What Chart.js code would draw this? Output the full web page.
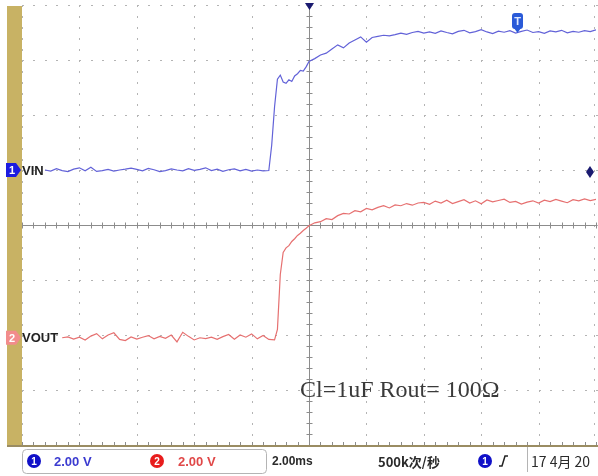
<!DOCTYPE html>
<html>
<head>
<meta charset="utf-8">
<script src="https://cdn.jsdelivr.net/npm/chart.js@4.4.1/dist/chart.umd.min.js"></script>
<style>
    html, body { margin: 0; padding: 0; background: #fff; }
    #wrap { width: 598px; height: 476px; position: relative; }
</style>
</head>
<body>
<div id="wrap"><canvas id="scope" width="598" height="476"></canvas></div>
<script>
// time in ms (2 ms/div, 10 div across), volts per channel (2 V/div)
const vinTime = [-9.2,-9.0,-8.8,-8.6,-8.4,-8.2,-8.0,-7.8,-7.6,-7.4,-7.2,-7.0,-6.8,-6.6,-6.4,-6.2,-6.0,-5.8,-5.6,-5.4,
    -5.2,-5.0,-4.8,-4.6,-4.4,-4.2,-4.0,-3.8,-3.6,-3.4,-3.2,-3.0,-2.8,-2.6,-2.4,-2.2,-2.0,-1.8,-1.6,-1.4,
    -1.3,-1.2,-1.1,-1.0,-0.9,-0.8,-0.7,-0.6,-0.5,-0.4,-0.3,-0.2,-0.1,0.0,
    0.2,0.4,0.6,0.8,1.0,1.2,1.4,1.6,1.8,2.0,2.2,2.4,2.6,2.8,3.0,3.2,3.4,3.6,3.8,4.0,
    4.2,4.4,4.6,4.8,5.0,5.2,5.4,5.6,5.8,6.0,6.2,6.4,6.6,6.8,7.0,7.2,7.4,7.6,7.8,8.0,
    8.2,8.4,8.6,8.8,9.0,9.2,9.4,9.6,9.8,10.0];
const vinVolts = [0.00,-0.04,0.05,-0.02,-0.06,0.03,0.08,-0.03,0.10,-0.05,-0.02,0.02,-0.04,0.00,0.03,0.07,0.02,-0.03,0.06,0.01,
    -0.06,-0.02,0.04,0.00,-0.03,0.05,-0.01,0.02,0.08,-0.02,0.03,-0.05,0.01,0.04,-0.03,0.02,-0.04,0.00,-0.03,-0.02,
    0.9,2.3,3.3,3.45,3.2,3.15,3.28,3.22,3.42,3.5,3.62,3.6,3.75,3.95,
    4.05,4.18,4.25,4.4,4.55,4.44,4.62,4.73,4.84,4.65,4.82,4.86,4.9,4.88,4.92,4.98,4.93,5.0,5.04,4.98,
    5.02,4.97,5.06,5.00,4.95,5.04,5.08,4.99,5.03,5.10,5.02,4.96,5.05,5.01,5.07,4.98,5.04,5.09,5.00,5.03,
    4.97,5.06,5.02,5.08,4.99,5.04,5.01,5.07,5.03,5.10];

const voutTime = [-8.6,-8.4,-8.2,-8.0,-7.8,-7.6,-7.4,-7.2,-7.0,-6.8,-6.6,-6.4,-6.2,-6.0,-5.8,-5.6,-5.4,-5.2,-5.0,
    -4.8,-4.6,-4.4,-4.2,-4.0,-3.8,-3.6,-3.4,-3.2,-3.0,-2.8,-2.6,-2.4,-2.2,-2.0,-1.8,-1.6,-1.4,-1.2,
    -1.1,-1.0,-0.9,-0.8,-0.7,-0.6,-0.5,-0.4,-0.3,-0.2,-0.1,0.0,
    0.2,0.4,0.6,0.8,1.0,1.2,1.4,1.6,1.8,2.0,2.2,2.4,2.6,2.8,3.0,3.2,3.4,3.6,3.8,
    4.0,4.2,4.4,4.6,4.8,5.0,5.2,5.4,5.6,5.8,6.0,6.2,6.4,6.6,6.8,7.0,7.2,7.4,7.6,7.8,
    8.0,8.2,8.4,8.6,8.8,9.0,9.2,9.4,9.6,9.8,10.0];
const voutVolts = [0.00,0.03,-0.05,0.02,-0.08,0.06,0.15,-0.04,0.10,0.18,-0.06,-0.10,0.03,-0.05,0.02,0.08,-0.04,0.05,-0.02,
    0.10,-0.15,0.20,0.05,-0.08,0.00,-0.03,0.02,-0.06,0.04,0.12,-0.05,0.10,0.02,0.14,-0.04,0.08,-0.06,-0.08,
    0.3,2.3,3.1,3.27,3.35,3.5,3.6,3.72,3.8,3.9,3.98,4.07,
    4.18,4.22,4.33,4.3,4.44,4.52,4.5,4.62,4.58,4.7,4.65,4.74,4.8,4.72,4.83,4.8,4.88,4.82,4.9,
    4.92,4.85,4.97,4.9,5.0,4.88,4.95,5.02,4.9,4.98,4.87,5.01,4.94,4.99,5.04,4.92,4.96,4.86,4.93,4.98,
    4.9,5.0,4.95,5.03,4.97,4.91,5.02,4.98,5.05,4.99,5.03];

const vinOffset = 1.0;     // ground marker position, divisions
const voutOffset = -2.05;
const voltsPerDiv = 2;

const channelNames = ["VIN", "VOUT"];
const statusTexts = ["2.00 V", "2.00 V", "2.00ms", "500k次/秒", "17 4月 20"];
const noteText = "Cl=1uF Rout= 100Ω";

const toPoints = (times, volts, offset) =>
    times.map((t, i) => ({ x: t, y: offset + volts[i] / voltsPerDiv }));

const narrowBold = (size) => `bold ${size}px "Liberation Sans Narrow", "Liberation Sans", Arial, sans-serif`;

function tag(ctx, x, y, color, label) {
    ctx.save();
    ctx.fillStyle = color;
    ctx.beginPath();
    ctx.moveTo(x, y - 7);
    ctx.lineTo(x + 10, y - 7);
    ctx.lineTo(x + 15, y);
    ctx.lineTo(x + 10, y + 7);
    ctx.lineTo(x, y + 7);
    ctx.closePath();
    ctx.fill();
    ctx.fillStyle = "#fff";
    ctx.font = narrowBold(11);
    ctx.textAlign = "center";
    ctx.textBaseline = "middle";
    ctx.fillText(label, x + 6, y + 1);
    ctx.restore();
}

function badge(ctx, x, y, color, label) {
    ctx.save();
    ctx.fillStyle = color;
    ctx.beginPath();
    ctx.ellipse(x, y, 7, 7, 0, 0, Math.PI * 2);
    ctx.fill();
    ctx.fillStyle = "#fff";
    ctx.font = narrowBold(10);
    ctx.textAlign = "center";
    ctx.textBaseline = "middle";
    ctx.fillText(label, x, y + 1);
    ctx.restore();
}

const scopeBackdrop = {
    id: "scopeBackdrop",
    beforeDatasetsDraw(chart) {
        const { ctx, chartArea } = chart;
        const xs = chart.scales.x, ys = chart.scales.y;
        const { left, right, top, bottom } = chartArea;
        ctx.save();

        // gold side bar
        ctx.fillStyle = "#c8b264";
        ctx.fillRect(7, top + 1, 15, bottom - top);

        // dotted graticule
        ctx.fillStyle = "#b4b4b4";
        for (let d = -10; d <= 10; d += 2) {
            const px = Math.round(xs.getPixelForValue(d));
            for (let v = -4; v <= 4.001; v += 0.2) {
                ctx.fillRect(px - (d === 10 ? 2 : 0), Math.round(ys.getPixelForValue(v)), 1, 2);
            }
        }
        for (let v = -4; v <= 4; v += 1) {
            const py = Math.round(ys.getPixelForValue(v));
            for (let d = -10; d <= 10.001; d += 0.4) {
                ctx.fillRect(Math.round(xs.getPixelForValue(d)), py, 2, 1);
            }
        }

        // centre cross with minor ticks
        const cx = Math.round(xs.getPixelForValue(0)) + 0.5;
        const cy = Math.round(ys.getPixelForValue(0)) + 0.5;
        ctx.strokeStyle = "#8c8c8c";
        ctx.lineWidth = 1;
        ctx.beginPath();
        ctx.moveTo(left, cy); ctx.lineTo(right, cy);
        ctx.moveTo(cx, top); ctx.lineTo(cx, bottom);
        for (let d = -10; d <= 10.001; d += 0.4) {
            const px = Math.round(xs.getPixelForValue(d)) + 0.5;
            ctx.moveTo(px, cy - 3); ctx.lineTo(px, cy + 3);
            ctx.moveTo(px, bottom - 3); ctx.lineTo(px, bottom);
        }
        for (let v = -4; v <= 4.001; v += 0.2) {
            const py = Math.round(ys.getPixelForValue(v)) + 0.5;
            ctx.moveTo(cx - 3, py); ctx.lineTo(cx + 3, py);
        }
        ctx.stroke();

        // bottom edge
        ctx.strokeStyle = "#9a8c62";
        ctx.lineWidth = 2;
        ctx.beginPath();
        ctx.moveTo(7, bottom + 1); ctx.lineTo(598, bottom + 1);
        ctx.stroke();
        ctx.restore();
    },
    afterDatasetsDraw(chart) {
        const { ctx, chartArea } = chart;
        const xs = chart.scales.x, ys = chart.scales.y;
        const { left, top, bottom } = chartArea;
        ctx.save();

        // channel names and ground markers
        const y1 = ys.getPixelForValue(vinOffset);
        const y2 = ys.getPixelForValue(voutOffset);
        ctx.font = narrowBold(13);
        ctx.fillStyle = "#222";
        ctx.textAlign = "left";
        ctx.textBaseline = "middle";
        ctx.fillText(channelNames[0], left, y1 + 1);
        ctx.fillText(channelNames[1], left, y2 + 1);
        tag(ctx, 6, y1, "#1c1ce0", "1");
        tag(ctx, 6, y2, "#f28c8c", "2");

        // trigger position (top) and level (right)
        const tx = xs.getPixelForValue(0);
        ctx.fillStyle = "#1a1a70";
        ctx.beginPath();
        ctx.moveTo(tx - 4, top - 2); ctx.lineTo(tx + 5, top - 2); ctx.lineTo(tx + 0.5, top + 5);
        ctx.closePath(); ctx.fill();
        const ly = y1 + 2;
        ctx.beginPath();
        ctx.moveTo(590, ly - 6); ctx.lineTo(594, ly); ctx.lineTo(590, ly + 6); ctx.lineTo(586, ly);
        ctx.closePath(); ctx.fill();

        // blue "T" flag on CH1 trace
        ctx.fillStyle = "#2a5ad8";
        ctx.beginPath();
        ctx.roundRect(512, 13, 11, 16, 3);
        ctx.fill();
        ctx.beginPath();
        ctx.moveTo(514, 28); ctx.lineTo(521, 28); ctx.lineTo(517.5, 33);
        ctx.closePath(); ctx.fill();
        ctx.fillStyle = "#dfe8ff";
        ctx.font = narrowBold(11);
        ctx.textAlign = "center";
        ctx.fillText("T", 517.5, 21.5);

        // annotation
        ctx.fillStyle = "#3a3a3a";
        ctx.font = '24px "Liberation Serif", "Times New Roman", serif';
        ctx.textAlign = "left";
        ctx.textBaseline = "alphabetic";
        ctx.fillText(noteText, 300, 397, 206);

        // status bar
        const sy = bottom + 16;
        ctx.strokeStyle = "#b4b4b4";
        ctx.lineWidth = 1;
        ctx.beginPath();
        ctx.roundRect(22.5, bottom + 4.5, 244, 24, 4);
        ctx.stroke();
        ctx.beginPath();
        ctx.moveTo(527.5, bottom + 2); ctx.lineTo(527.5, 472);
        ctx.stroke();

        badge(ctx, 34, sy, "#1010c8", "1");
        badge(ctx, 157, sy, "#e81c1c", "2");
        badge(ctx, 485, sy, "#1010c8", "1");

        ctx.font = narrowBold(13);
        ctx.textAlign = "left";
        ctx.textBaseline = "middle";
        ctx.fillStyle = "#3b3bd0";
        ctx.fillText(statusTexts[0], 54, sy + 1);
        ctx.fillStyle = "#e04848";
        ctx.fillText(statusTexts[1], 178, sy + 1);

        ctx.fillStyle = "#2a2a2a";
        ctx.font = narrowBold(12);
        ctx.fillText(statusTexts[2], 272, sy + 1);
        ctx.font = 'bold 13px "Noto Sans CJK SC", "Liberation Sans", sans-serif';
        ctx.fillText(statusTexts[3], 378, sy + 1, 64);

        // rising edge symbol
        ctx.strokeStyle = "#222";
        ctx.lineWidth = 1.5;
        ctx.beginPath();
        ctx.moveTo(499, sy + 5); ctx.lineTo(502, sy + 5); ctx.lineTo(505, sy - 5); ctx.lineTo(508, sy - 5);
        ctx.stroke();

        ctx.fillStyle = "#2a2a2a";
        ctx.font = '14px "Noto Sans CJK SC", "Liberation Sans", sans-serif';
        ctx.textAlign = "left";
        ctx.fillText(statusTexts[4], 531, sy + 1, 66);
        ctx.restore();
    }
};

new Chart(document.getElementById("scope"), {
    type: "scatter",
    data: {
        datasets: [{
            label: channelNames[0],
            data: toPoints(vinTime, vinVolts, vinOffset),
            showLine: true,
            borderColor: "#6262d8",
            borderWidth: 1.2,
            pointRadius: 0,
            tension: 0
        }, {
            label: channelNames[1],
            data: toPoints(voutTime, voutVolts, voutOffset),
            showLine: true,
            borderColor: "#e67070",
            borderWidth: 1.2,
            pointRadius: 0,
            tension: 0
        }]
    },
    options: {
        responsive: false,
        animation: false,
        layout: {
            padding: { left: 22, right: 2, top: 5, bottom: 31 }
        },
        scales: {
            x: { type: "linear", min: -10, max: 10, display: false },
            y: { type: "linear", min: -4, max: 4, display: false }
        },
        plugins: {
            legend: { display: false },
            tooltip: { enabled: false }
        }
    },
    plugins: [scopeBackdrop]
});
</script>
</body>
</html>
